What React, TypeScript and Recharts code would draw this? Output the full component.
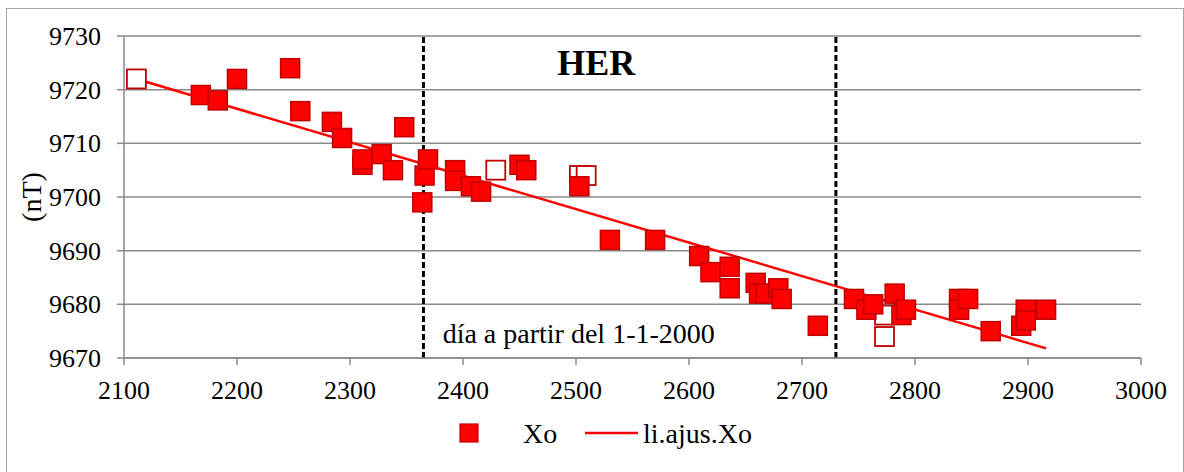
import {
  ComposedChart,
  Scatter,
  XAxis,
  YAxis,
  CartesianGrid,
  ReferenceLine,
  ReferenceDot,
  Legend,
} from 'recharts'

// Xo (filled markers): day since 1-1-2000 / value in nT
const xoDays = [
  2168, 2183, 2200, 2247, 2256, 2284, 2293, 2311, 2311, 2328, 2338, 2348, 2364, 2366, 2369,
  2393, 2393, 2407, 2416, 2450, 2456, 2503, 2530, 2570, 2609, 2619, 2636, 2636, 2659, 2662,
  2668, 2679, 2682, 2714, 2746, 2757, 2763, 2782, 2788, 2792, 2839, 2839, 2847, 2867, 2894,
  2898, 2898, 2916,
]
const xoValues = [
  9719, 9718, 9722, 9724, 9716, 9714, 9711, 9706, 9707, 9708, 9705, 9713, 9699, 9704, 9707,
  9705, 9703, 9702, 9701, 9706, 9705, 9702, 9692, 9692, 9689, 9686, 9687, 9683, 9684, 9682,
  9682, 9683, 9681, 9676, 9681, 9679, 9680, 9682, 9678, 9679, 9681, 9679, 9681, 9675, 9676,
  9679, 9677, 9679,
]
// Xo points drawn hollow
const openDays = [2111, 2429, 2503, 2509, 2773, 2773]
const openValues = [9722, 9705, 9704, 9704, 9678, 9674]

// li.ajus.Xo (fitted line)
const fitDays = [2111, 2916]
const fitValues = [9722, 9671.8]

const xTicks = [2100, 2200, 2300, 2400, 2500, 2600, 2700, 2800, 2900, 3000]
const yTicks = [9670, 9680, 9690, 9700, 9710, 9720, 9730]
const zoneBounds = [2365, 2730]

const FONT = "'Liberation Serif', 'Times New Roman', serif"
const GRID = '#8a8a8a'

const xoData = xoDays.map((x, i) => ({ x, y: xoValues[i] }))
const openData = openDays.map((x, i) => ({ x, y: openValues[i] }))
const fitData = fitDays.map((x, i) => ({ x, y: fitValues[i] }))

const S = 19

function FilledSquare(props: any) {
  const { cx, cy } = props
  return (
    <rect x={cx - S / 2} y={cy - S / 2} width={S} height={S} fill="#ff0000" stroke="#c00000" strokeWidth={1.5} />
  )
}

function OpenSquare(props: any) {
  const { cx, cy } = props
  return (
    <rect x={cx - S / 2} y={cy - S / 2} width={S} height={S} fill="#ffffff" stroke="#c00000" strokeWidth={1.8} />
  )
}

function NoMarker() {
  return <g />
}

function XTick(props: any) {
  const { x, y, payload } = props
  return (
    <text x={x} y={y + 18} textAnchor="middle" fontFamily={FONT} fontSize={26} fill="#000">
      {payload.value}
    </text>
  )
}

function YTick(props: any) {
  const { x, y, payload } = props
  return (
    <text x={x} y={y + 9} textAnchor="end" fontFamily={FONT} fontSize={26} fill="#000">
      {payload.value}
    </text>
  )
}

function HerLabel(props: any) {
  const { viewBox } = props
  return (
    <text x={viewBox.x} y={viewBox.y} textAnchor="middle" fontFamily={FONT} fontWeight="bold" fontSize={36} fill="#000">
      HER
    </text>
  )
}

function DayLabel(props: any) {
  const { viewBox } = props
  return (
    <text x={viewBox.x} y={viewBox.y} textAnchor="start" fontFamily={FONT} fontSize={28} fill="#000">
      día a partir del 1-1-2000
    </text>
  )
}

function UnitLabel(props: any) {
  const { viewBox } = props
  const x = viewBox.x + 31
  const y = viewBox.y + viewBox.height / 2
  return (
    <text
      x={x}
      y={y}
      transform={`rotate(-90, ${x}, ${y})`}
      textAnchor="middle"
      dominantBaseline="central"
      fontFamily={FONT}
      fontSize={28}
      fill="#000"
    >
      (nT)
    </text>
  )
}

function ChartLegend() {
  return (
    <svg width={1184} height={60}>
      <rect x={460} y={15} width={18} height={18} fill="#ff0000" stroke="#c00000" strokeWidth={1.2} />
      <text x={523} y={34} fontFamily={FONT} fontSize={28} fill="#000">
        Xo
      </text>
      <line x1={585} y1={24} x2={638} y2={24} stroke="#ff0000" strokeWidth={2.5} />
      <text x={643} y={34} fontFamily={FONT} fontSize={28} fill="#000">
        li.ajus.Xo
      </text>
    </svg>
  )
}

export default function App() {
  return (
    <div
      style={{
        position: 'fixed',
        left: 0,
        top: 0,
        width: 1184,
        height: 472,
        overflow: 'hidden',
        background: '#fff',
        fontFamily: FONT,
      }}
    >
      <div
        style={{
          position: 'absolute',
          left: 6,
          top: 8,
          width: 1178,
          height: 480,
          boxSizing: 'border-box',
          border: '1px solid #a6a6a6',
        }}
      />
      <div style={{ position: 'absolute', left: 0, top: 0 }}>
        <ComposedChart width={1184} height={472} margin={{ top: 36, right: 43, left: 0, bottom: 0 }}>
          <CartesianGrid vertical={false} stroke={GRID} strokeWidth={1.5} />
          <XAxis
            type="number"
            dataKey="x"
            domain={[2100, 3000]}
            ticks={xTicks}
            allowDataOverflow
            height={114}
            tickSize={7}
            tickMargin={16}
            axisLine={{ stroke: GRID, strokeWidth: 1.5 }}
            tickLine={{ stroke: GRID, strokeWidth: 1.5 }}
            tick={<XTick />}
          />
          <YAxis
            type="number"
            dataKey="y"
            domain={[9670, 9730]}
            ticks={yTicks}
            allowDataOverflow
            width={124}
            tickSize={7}
            tickMargin={16}
            axisLine={{ stroke: GRID, strokeWidth: 1.5 }}
            tickLine={{ stroke: GRID, strokeWidth: 1.5 }}
            tick={<YTick />}
            label={<UnitLabel />}
          />
          {zoneBounds.map((d) => (
            <ReferenceLine key={d} x={d} stroke="#000" strokeWidth={3} strokeDasharray="6 3" />
          ))}
          <Scatter
            name="li.ajus.Xo"
            data={fitData}
            line={{ stroke: '#ff0000', strokeWidth: 2.5 }}
            shape={<NoMarker />}
            isAnimationActive={false}
          />
          <Scatter name="Xo open" data={openData} shape={<OpenSquare />} isAnimationActive={false} />
          <Scatter name="Xo" data={xoData} shape={<FilledSquare />} isAnimationActive={false} />
          <ReferenceDot x={2518} y={9722.7} r={0} fill="none" stroke="none" label={<HerLabel />} />
          <ReferenceDot x={2382} y={9672.8} r={0} fill="none" stroke="none" label={<DayLabel />} />
          <Legend
            layout="horizontal"
            verticalAlign="middle"
            align="center"
            content={<ChartLegend />}
            wrapperStyle={{ position: 'absolute', left: 0, top: 409, width: 1184, height: 60 }}
          />
        </ComposedChart>
      </div>
    </div>
  )
}
